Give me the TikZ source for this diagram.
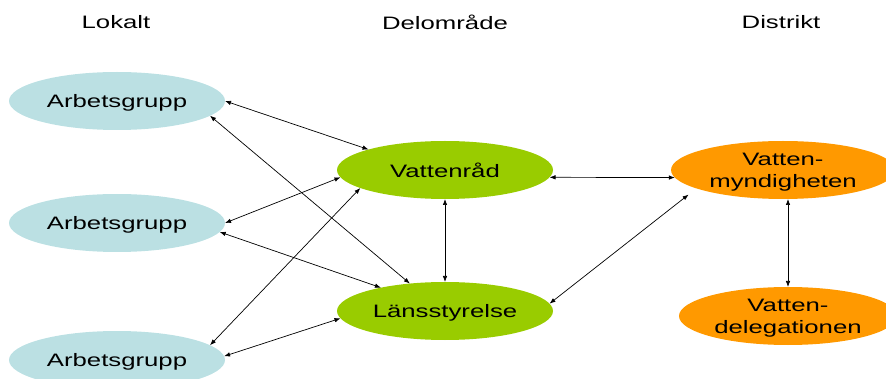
\documentclass[tikz,border=0pt]{standalone}
\usepackage{fontspec}
\setmainfont{Liberation Sans}[FakeStretch=1.43]
\usepackage{tikz}
\usetikzlibrary{shapes.geometric,arrows.meta}

\definecolor{lokblue}{RGB}{187,224,227}
\definecolor{delgreen}{RGB}{153,204,0}
\definecolor{distorange}{RGB}{255,153,0}

\begin{document}
\begin{tikzpicture}[x=1pt,y=1pt,yscale=-1,xscale=1,
  font=\fontsize{18}{22}\selectfont,
  blob/.style={ellipse,draw=none,inner sep=0pt,outer sep=0pt,text depth=0pt,minimum width=216pt,minimum height=58pt,align=center},
  link/.style={{Latex[length=6pt,width=4.5pt]}-{Latex[length=6pt,width=4.5pt]},line width=0.7pt}]
\useasboundingbox (0,0) rectangle (886,379);

% Titles
\node (lokalt) at (116,22) {Lokalt};
\node (delomr) at (445,22) {Delområde};
\node (distr) at (781,22) {Distrikt};

% Lokalt
\node [blob,fill=lokblue] (a1) at (117,101) {Arbetsgrupp};
\node [blob,fill=lokblue] (a2) at (117,223) {Arbetsgrupp};
\node [blob,fill=lokblue] (a3) at (117,360) {Arbetsgrupp};

% Delområde
\node [blob,fill=delgreen] (vr) at (445,170) {Vattenråd};
\node [blob,fill=delgreen] (ls) at (445,311) {Länsstyrelse};

% Distrikt
\node [blob,fill=distorange,minimum width=224pt] (vm) at (783,170) {Vatten-\\myndigheten};
\node [blob,fill=distorange,minimum width=218pt] (vd) at (788,316) {Vatten-\\delegationen};

% Links
\draw [link] (a1.east) -- (vr.165);
\draw [link] (a1.-9) -- (ls.142);
\draw [link] (a2.east) -- (vr.184);
\draw [link] (a2.-5) -- (ls.160);
\draw [link] (a3.9) -- (vr.192);
\draw [link] (a3.2) -- (ls.184);
\draw [link] (vr.south) -- (ls.north);
\draw [link] (vr.-4) -- (vm.184);
\draw [link,shorten >=10pt] (ls.4) -- (vm.192);
\draw [link] (vd.north |- vm.south) -- (vd.north);

\end{tikzpicture}
\end{document}
